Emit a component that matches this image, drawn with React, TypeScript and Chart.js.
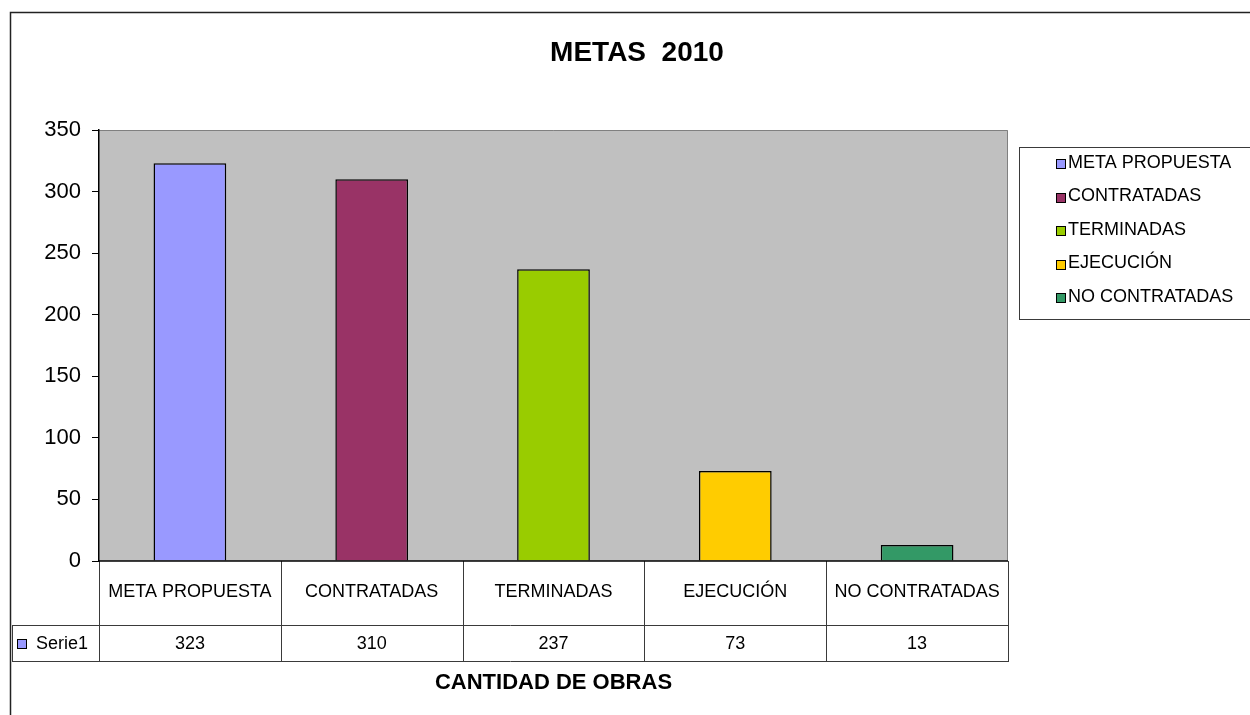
import React, { useEffect, useRef } from "react";
import { Chart, registerables } from "chart.js";

Chart.register(...registerables);

const categories = ["META PROPUESTA", "CONTRATADAS", "TERMINADAS", "EJECUCIÓN", "NO CONTRATADAS"];
const values = [323, 310, 237, 73, 13];
const barColors = ["#9999FF", "#993366", "#99CC00", "#FFCC00", "#339966"];
const seriesName = "Serie1";
const seriesColor = "#9999FF";
const chartTitle = "METAS  2010";
const axisTitle = "CANTIDAD DE OBRAS";
const yMin = 0;
const yMax = 350;
const yStep = 50;

const FONT = "'Liberation Sans', Arial, sans-serif";

const tablePlugin = {
  id: "excelDecor",
  beforeDraw(chart: any) {
    const { ctx, chartArea } = chart;
    const { left, top, right, bottom } = chartArea;
    ctx.save();
    ctx.fillStyle = "#ffffff";
    ctx.fillRect(0, 0, chart.width, chart.height);
    // outer border
    ctx.strokeStyle = "#222222";
    ctx.lineWidth = 1.5;
    ctx.strokeRect(10.5, 12.5, 1400, 900);
    // plot background
    ctx.fillStyle = "#C0C0C0";
    ctx.fillRect(left, top, right - left, bottom - top);
    ctx.strokeStyle = "#808080";
    ctx.lineWidth = 1;
    ctx.beginPath();
    ctx.moveTo(left, top + 0.5);
    ctx.lineTo(right - 0.5, top + 0.5);
    ctx.lineTo(right - 0.5, bottom);
    ctx.stroke();
    ctx.restore();
  },
  afterDraw(chart: any) {
    const { ctx, chartArea } = chart;
    const { left, right, bottom } = chartArea;
    const n = categories.length;
    const colW = (right - left) / n;
    const row1 = bottom;
    const row2 = 625;
    const row3 = 661;
    const tableLeft = 12;
    ctx.save();

    // title
    ctx.fillStyle = "#000";
    ctx.textAlign = "center";
    ctx.textBaseline = "middle";
    ctx.font = `bold 28px ${FONT}`;
    ctx.fillText(chartTitle, 637, 53);

    // table lines
    ctx.strokeStyle = "#3a3a3a";
    ctx.lineWidth = 1;
    ctx.beginPath();
    for (let i = 0; i <= n; i++) {
      const x = Math.round(left + i * colW) + 0.5;
      ctx.moveTo(x, row1);
      ctx.lineTo(x, row3);
    }
    ctx.moveTo(tableLeft + 0.5, row2);
    ctx.lineTo(tableLeft + 0.5, row3);
    ctx.moveTo(tableLeft, row2 + 0.5);
    ctx.lineTo(right + 1, row2 + 0.5);
    ctx.moveTo(tableLeft, row3 + 0.5);
    ctx.lineTo(right + 1, row3 + 0.5);
    ctx.stroke();
    // axis line
    ctx.strokeStyle = "#000";
    ctx.lineWidth = 1.5;
    ctx.beginPath();
    ctx.moveTo(left, bottom);
    ctx.lineTo(right, bottom);
    ctx.stroke();

    // table text
    ctx.fillStyle = "#000";
    ctx.font = `18px ${FONT}`;
    ctx.textAlign = "center";
    for (let i = 0; i < n; i++) {
      const cx = left + (i + 0.5) * colW;
      ctx.fillText(categories[i], cx, 592);
      ctx.fillText(String(values[i]), cx, 644);
    }
    // series cell
    ctx.fillStyle = seriesColor;
    ctx.fillRect(17, 639, 9, 9);
    ctx.strokeStyle = "#000";
    ctx.lineWidth = 1;
    ctx.strokeRect(17.5, 639.5, 9, 9);
    ctx.fillStyle = "#000";
    ctx.textAlign = "left";
    ctx.fillText(seriesName, 36, 644);

    // axis title
    ctx.textAlign = "center";
    ctx.font = `bold 22px ${FONT}`;
    ctx.fillText(axisTitle, (left + right) / 2, 683);

    // legend
    ctx.strokeStyle = "#3a3a3a";
    ctx.lineWidth = 1;
    ctx.strokeRect(1019.5, 147.5, 400, 172);
    ctx.font = `18px ${FONT}`;
    ctx.textAlign = "left";
    for (let i = 0; i < n; i++) {
      const cy = 163 + i * 33.5;
      ctx.fillStyle = barColors[i];
      ctx.fillRect(1056, Math.round(cy) - 4, 9, 9);
      ctx.strokeStyle = "#000";
      ctx.strokeRect(1056.5, Math.round(cy) - 3.5, 9, 9);
      ctx.fillStyle = "#000";
      ctx.fillText(categories[i], 1068, cy);
    }
    ctx.restore();
  },
};

export default function App() {
  const ref = useRef<HTMLCanvasElement | null>(null);
  useEffect(() => {
    if (!ref.current) return;
    const chart = new Chart(ref.current, {
      type: "bar",
      data: {
        labels: categories,
        datasets: [
          {
            label: seriesName,
            data: values,
            backgroundColor: barColors,
            borderColor: "#000000",
            borderWidth: 1.5,
            barPercentage: 0.4,
            categoryPercentage: 1,
          },
        ],
      },
      options: {
        responsive: false,
        animation: false,
        devicePixelRatio: 1,
        layout: { padding: { left: 0, top: 130, right: 242, bottom: 154 } },
        plugins: {
          legend: { display: false },
          title: { display: false },
          tooltip: { enabled: false },
        },
        scales: {
          x: { display: false },
          y: {
            min: yMin,
            max: yMax,
            ticks: {
              stepSize: yStep,
              color: "#000",
              padding: 11,
              font: { family: FONT, size: 22 },
            },
            grid: { drawOnChartArea: false, tickLength: 7, color: "#000" },
            border: { color: "#000", width: 1.5 },
            afterFit: (s: any) => {
              s.width = 99;
            },
          },
        },
      },
      plugins: [tablePlugin],
    });
    return () => chart.destroy();
  }, []);
  return (
    <div style={{ position: "absolute", left: 0, top: 0, width: 1250, height: 715 }}>
      <canvas ref={ref} width={1250} height={715} style={{ display: "block" }} />
    </div>
  );
}
